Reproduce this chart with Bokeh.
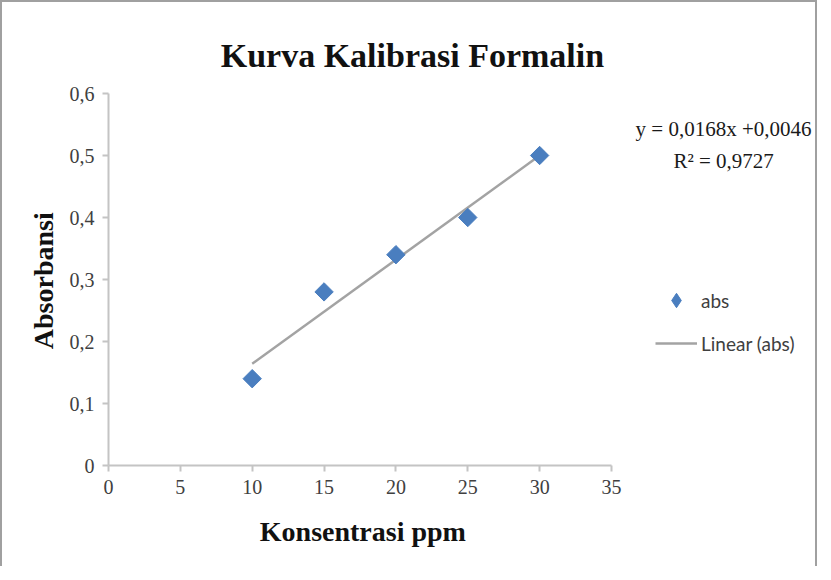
import numpy as np
from bokeh.plotting import figure
from bokeh.models import Range1d, FixedTicker, Label, Legend, LegendItem
from bokeh.embed import file_html
from bokeh.resources import INLINE

# ---- data ----
konsentrasi = [10, 15, 20, 25, 30]
absorbansi = [0.14, 0.28, 0.34, 0.40, 0.50]
x_ticks = [0, 5, 10, 15, 20, 25, 30, 35]
y_ticks = [0, 0.1, 0.2, 0.3, 0.4, 0.5, 0.6]
y_tick_labels = ["0", "0,1", "0,2", "0,3", "0,4", "0,5", "0,6"]
title_text = "Kurva Kalibrasi Formalin"
x_label = "Konsentrasi ppm"
y_label = "Absorbansi"
equation_text = "y = 0,0168x +0,0046"
r2_text = "R² = 0,9727"
series_name = "abs"
trend_name = "Linear (abs)"

SERIF = "Liberation Serif"
SANS = "Lato"
BLUE = "#4a7ebf"

# layout (pixels): plot origin and scale
W, H = 817, 566
ORIG_X, ORIG_Y = 106, 463          # pixel position of (0, 0) inside the figure
PX_X, PX_Y = 14.371, 620.0         # pixels per data unit

p = figure(width=W, height=H, output_backend="svg", toolbar_location=None,
           x_range=Range1d(-ORIG_X / PX_X, (W - ORIG_X) / PX_X),
           y_range=Range1d(-(H - ORIG_Y) / PX_Y, ORIG_Y / PX_Y),
           min_border=0,
           styles={"border-left": "2px solid #a0a0a0",
                   "border-top": "2px solid #a0a0a0",
                   "border-right": "2px solid #a0a0a0"})
p.outline_line_color = None
p.grid.visible = False
p.background_fill_color = "white"
p.border_fill_color = "white"

# axes
for ax in (p.xaxis[0], p.yaxis[0]):
    ax.fixed_location = 0
    ax.axis_line_color = "#c4c4c4"
    ax.axis_line_width = 2
    ax.major_tick_line_color = "#c4c4c4"
    ax.major_tick_line_width = 2
    ax.major_tick_out = 6
    ax.major_tick_in = 0
    ax.minor_tick_line_color = None
    ax.major_label_text_font = SERIF
    ax.major_label_text_font_size = "20px"
    ax.major_label_text_color = "#404040"

p.xaxis.bounds = (x_ticks[0], x_ticks[-1])
p.yaxis.bounds = (y_ticks[0], y_ticks[-1])
p.xaxis.ticker = FixedTicker(ticks=x_ticks)
p.yaxis.ticker = FixedTicker(ticks=y_ticks)
p.yaxis.major_label_overrides = {t: l for t, l in zip(y_ticks, y_tick_labels)}
p.xaxis.major_label_standoff = 8
p.yaxis.major_label_standoff = 8

# trendline (least squares fit of the data)
slope, intercept = np.polyfit(konsentrasi, absorbansi, 1)
tx = np.array([min(konsentrasi), max(konsentrasi)])
ty = slope * tx + intercept
trend = p.line(tx, ty, line_color="#a3a3a3", line_width=2.5)

pts = p.scatter(konsentrasi, absorbansi, marker="square", angle=np.pi / 4,
                size=13, fill_color=BLUE, line_color=BLUE)
# legend key for the series: same data, diamond marker, hidden in the plot
key = p.scatter(konsentrasi, absorbansi, marker="diamond",
                fill_color=BLUE, line_color=BLUE, visible=False)

legend = Legend(items=[LegendItem(label=series_name, renderers=[key]),
                       LegendItem(label=trend_name, renderers=[trend])],
                location=(653, 207), orientation="vertical",
                border_line_color=None, background_fill_alpha=0,
                padding=0, margin=0, spacing=7,
                glyph_width=42, glyph_height=36, label_height=36,
                label_standoff=4,
                label_text_font=SANS, label_text_font_size="19px",
                label_text_color="#404040")
p.add_layout(legend)

# title
p.add_layout(Label(x=21.15, y=0.661, text=title_text, text_align="center",
                   text_baseline="alphabetic", text_font=SERIF,
                   text_font_size="34px", text_font_style="bold",
                   text_color="#111111"))
# axis titles
p.add_layout(Label(x=17.7, y=-0.106, text=x_label, text_align="center",
                   text_baseline="middle", text_font=SERIF,
                   text_font_size="28px", text_font_style="bold",
                   text_color="#111111"))
p.add_layout(Label(x=-4.5, y=0.298, text=y_label, text_align="center",
                   text_baseline="middle", angle=np.pi / 2, text_font=SERIF,
                   text_font_size="28px", text_font_style="bold",
                   text_color="#111111"))
# equation
p.add_layout(Label(x=42.8, y=(ORIG_Y + 10 - 136) / PX_Y, text=equation_text,
                   text_align="center", text_baseline="alphabetic",
                   text_font=SERIF, text_font_size="21px",
                   text_color="#1a1a1a"))
p.add_layout(Label(x=42.8, y=(ORIG_Y + 10 - 168) / PX_Y, text=r2_text,
                   text_align="center", text_baseline="alphabetic",
                   text_font=SERIF, text_font_size="21px",
                   text_color="#1a1a1a"))

open("out.html", "w").write(file_html(p, INLINE))
